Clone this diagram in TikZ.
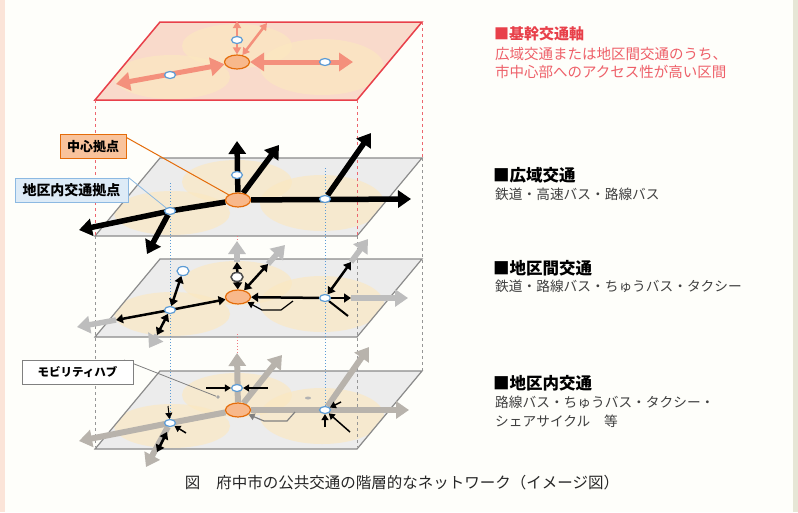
\documentclass[tikz,border=0pt]{standalone}
\usepackage{fontspec}
\newfontfamily\jp{Noto Sans CJK JP}
\usetikzlibrary{arrows.meta,shapes.geometric}
\definecolor{pagebg}{HTML}{FEFEFA}
\definecolor{edgepink}{HTML}{FBE4D8}
\definecolor{edgegray}{HTML}{E6E6D6}
\definecolor{axisred}{HTML}{E8404A}
\definecolor{axistext}{HTML}{EE5F68}
\definecolor{axisfill}{HTML}{F9DACB}
\definecolor{salmon}{HTML}{F4907C}
\definecolor{planefill}{HTML}{ECECEC}
\definecolor{planeedge}{HTML}{8A8A8A}
\definecolor{glowfill}{HTML}{FCE8C0}
\definecolor{hubfill}{HTML}{F8B88B}
\definecolor{hubedge}{HTML}{E46C0A}
\definecolor{stopedge}{HTML}{5B9BD5}
\definecolor{stopfill}{HTML}{DDEBF7}
\definecolor{fadegray}{HTML}{BDBDBD}
\definecolor{roadgray}{HTML}{B8B3AC}
\pgfdeclarelayer{back}
\pgfdeclarelayer{ways}
\pgfsetlayers{back,ways,main}
\tikzset{
    hub/.style={ellipse, draw=hubedge, fill=hubfill, line width=1.2pt, minimum width=25pt, minimum height=14pt, inner sep=0pt},
    stop/.style={ellipse, draw=stopedge, fill=white, line width=1.2pt, minimum width=11pt, minimum height=7pt, inner sep=0pt},
    bigtip/.style={arrows={-Triangle[length=13pt,width=17pt]}},
    axisway/.style={draw=salmon, line width=5pt, arrows={Triangle[length=14pt,width=18pt]-Triangle[length=14pt,width=18pt]}},
    axisthin/.style={draw=salmon, line width=2.5pt, arrows={Triangle[length=7pt,width=8pt]-Triangle[length=7pt,width=8pt]}},
    wide/.style={draw=black, line width=5.5pt, bigtip},
    link/.style={draw=black, line width=2.5pt, arrows={Triangle[length=7pt,width=9pt]-Triangle[length=7pt,width=9pt]}},
    onelink/.style={draw=black, line width=2.5pt, arrows={-Triangle[length=7pt,width=9pt]}},
    fade/.style={draw=fadegray, line width=5.5pt, bigtip},
    road/.style={draw=roadgray, line width=6pt, bigtip},
    tick/.style={draw=black, line width=1.5pt, arrows={-Triangle[length=6pt,width=7pt]}},
    callout/.style={line width=1pt, minimum height=24pt, inner sep=2pt, font=\jp\bfseries\fontsize{13}{13}\selectfont},
    heading/.style={anchor=west, inner sep=0pt, font=\jp\bfseries\fontsize{16.5}{16.5}\selectfont},
    body/.style={anchor=north west, inner sep=0pt, align=left, font=\jp\fontsize{13.7}{19}\selectfont, text=black!75},
}
\begin{document}
\begin{tikzpicture}[x=1pt,y=-1pt]
    \useasboundingbox (0,0) rectangle (798,512);
    \begin{pgfonlayer}{back}
    \fill[pagebg] (0,0) rectangle (798,512);
    \fill[edgepink] (0,0) rectangle (5,512);
    \fill[edgegray] (793,0) rectangle (798,512);
    \foreach \t/\c in {22/axisfill,158/planefill,259/planefill,371/planefill} {
        \fill[\c] (95,\t+78) -- (357,\t+78) -- (422,\t) -- (160,\t) -- cycle;
        \begin{scope}
            \clip (95,\t+78) -- (357,\t+78) -- (422,\t) -- (160,\t) -- cycle;
            \fill[glowfill, opacity=0.65] (237,\t+24) ellipse (55 and 22);
            \fill[glowfill, opacity=0.65] (322,\t+45) ellipse (62 and 28);
            \fill[glowfill, opacity=0.65] (172,\t+55) ellipse (58 and 22);
        \end{scope}
    }
    \draw[axisred, line width=1.5pt] (95,100) -- (357,100) -- (422,22) -- (160,22) -- cycle;
    \foreach \t in {158,259,371}
        \draw[planeedge, line width=1.2pt] (95,\t+78) -- (357,\t+78) -- (422,\t) -- (160,\t) -- cycle;
    % box edges and hub verticals
    \draw[axisred!80, line width=1pt, dashed] (95,100) -- (95,236) (357,100) -- (357,236) (422,22) -- (422,158);
    \draw[planeedge!90, line width=1pt, dashed] (95,236) -- (95,447) (357,236) -- (357,447) (422,158) -- (422,371);
    \draw[stopedge, line width=1pt, dotted] (170,183) -- (170,423) (325,168) -- (325,410);
    \draw[axisred!70, line width=1pt, dotted] (237,236) -- (237,259) (237,334) -- (237,371);
    \fill[gray!60] (308,398) ellipse (3 and 1.5);
    \end{pgfonlayer}

    % top layer
    \node[hub] (kc) at (237,62) {};
    \node[stop] (kl) at (170,75) {};
    \node[stop] (kr) at (325,62) {};
    \node[stop] (ku) at (237,40) {};
    \coordinate (kA) at (116,84);
    \coordinate (kB) at (353,62);
    \coordinate (kU) at (237,21);
    \coordinate (kD) at (267,23);
    \begin{pgfonlayer}{ways}
    \draw[axisway] (kA) -- (kc);
    \draw[axisway] (kc) -- (kB);
    \draw[axisthin] (kc) -- (kU);
    \draw[axisthin] (kc) -- (kD);
    \end{pgfonlayer}

    % wide area
    \node[hub] (wc) at (238,200) {};
    \node[stop] (wl) at (170,211) {};
    \node[stop] (wr) at (325,199) {};
    \node[stop] (wu) at (237,175) {};
    \coordinate (wA) at (79,230);
    \coordinate (wB) at (147,254);
    \coordinate (wE) at (411,199);
    \coordinate (wU) at (237,141);
    \coordinate (wF) at (279,145);
    \coordinate (wG) at (371,133);
    \begin{pgfonlayer}{ways}
    \draw[wide] (wc) -- (wl.center) -- (wA);
    \draw[wide] (wl) -- (wB);
    \draw[wide] (wc) -- (wE);
    \draw[wide] (wc) -- (wU);
    \draw[wide] (wc) -- (wF);
    \draw[wide] (wr) -- (wG);
    \end{pgfonlayer}

    % inter district
    \node[hub] (ic) at (238,297) {};
    \node[stop] (il) at (170,310) {};
    \node[stop] (ir) at (325,298) {};
    \node[stop, draw=black!70, line width=1.5pt, minimum width=12pt, minimum height=9pt] (iu) at (237,277) {};
    \node[stop, minimum width=12pt, minimum height=9pt] (ix) at (183,271) {};
    \coordinate (iA) at (116,320);
    \coordinate (iA2) at (77,327);
    \coordinate (iB) at (157,335);
    \coordinate (iB2) at (149,348);
    \coordinate (iU) at (237,262);
    \coordinate (iU2) at (237,241);
    \coordinate (iF) at (268,264);
    \coordinate (iF2) at (285,245);
    \coordinate (iG) at (351,262);
    \coordinate (iG2) at (368,239);
    \coordinate (iE) at (351,298);
    \coordinate (iE2) at (408,298);
    \coordinate (iH) at (348,316);
    \coordinate (iR1) at (293,301);
    \coordinate (iR2) at (281,310);
    \coordinate (iR3) at (262,310);
    \begin{pgfonlayer}{ways}
    \draw[fade] (iA) -- (iA2);
    \draw[fade] (iB) -- (iB2);
    \draw[fade] (iU) -- (iU2);
    \draw[fade] (iF) -- (iF2);
    \draw[fade] (iG) -- (iG2);
    \draw[fade] (iE) -- (iE2);
    \draw[link] (ic) -- (il.center) -- (iA);
    \draw[link] (il) -- (iB);
    \draw[link] (il) -- (ix);
    \draw[link] (ic) -- (iU);
    \draw[link] (ic) -- (iF);
    \draw[link] (ir) -- (iG);
    \draw[onelink] (ir) -- (iE);
    \draw[onelink] (ir) -- (ic);
    \draw[black, line width=2pt] (ir) -- (iH);
    \draw[tick, line width=1.2pt] (iR1) -- (iR2) -- (iR3) -- (ic);
    \end{pgfonlayer}

    % inner district
    \node[hub] (nc) at (238,410) {};
    \node[stop] (nl) at (170,423) {};
    \node[stop] (nr) at (325,410) {};
    \node[stop] (nu) at (237,388) {};
    \node[circle, fill=gray!70, inner sep=1.4pt] (hubpt) at (218,397) {};
    \coordinate (nA) at (79,441);
    \coordinate (nB) at (146,467);
    \coordinate (nE) at (409,410);
    \coordinate (nU) at (237,353);
    \coordinate (nF) at (282,355);
    \coordinate (nG) at (369,347);
    \coordinate (nL1) at (206,388);
    \coordinate (nL2) at (268,388);
    \coordinate (nR1) at (341,402);
    \coordinate (nR2) at (325,427);
    \coordinate (nR3) at (350,432);
    \coordinate (nS1) at (186,433);
    \coordinate (nS2) at (168,406);
    \coordinate (nK1) at (167,432);
    \coordinate (nK2) at (157,452);
    \coordinate (nQ1) at (295,412);
    \coordinate (nQ2) at (287,421);
    \coordinate (nQ3) at (264,421);
    \begin{pgfonlayer}{ways}
    \draw[road] (nc) -- (nl.center) -- (nA);
    \draw[road] (nl) -- (nB);
    \draw[road] (nc) -- (nE);
    \draw[road] (nc) -- (nU);
    \draw[road] (nc) -- (nF);
    \draw[road] (nr) -- (nG);
    \draw[link] (nK1) -- (nK2);
    \draw[tick] (nL1) -- (nu);
    \draw[tick] (nL2) -- (nu);
    \draw[tick] (nR1) -- (nr);
    \draw[tick] (nR2) -- (nr);
    \draw[tick] (nR3) -- (nr);
    \draw[tick] (nS1) -- (nl);
    \draw[tick, line width=1pt] (nS2) -- (nl);
    \draw[tick, draw=gray, line width=1.2pt] (nQ1) -- (nQ2) -- (nQ3) -- (nc);
    \end{pgfonlayer}

    % callouts
    \node[callout, draw=hubedge, fill=hubfill!85, minimum width=66pt] (cbox) at (93,146.5) {中心拠点};
    \node[callout, draw=stopedge!70, fill=stopfill, minimum width=113pt, font=\jp\bfseries\fontsize{14}{14}\selectfont] (sbox) at (71.5,190) {地区内交通拠点};
    \node[callout, draw=gray, fill=white, minimum width=111pt, font=\jp\bfseries\fontsize{11.5}{11.5}\selectfont] (mbox) at (77.5,372.5) {モビリティハブ};
    \begin{pgfonlayer}{ways}
    \draw[hubedge, line width=1pt] (cbox.15) -- (wc);
    \draw[stopedge!70, line width=0.8pt] (sbox.north east) -- (wl);
    \draw[gray, line width=0.8pt] (mbox.15) -- (hubpt);
    \end{pgfonlayer}

    % legend
    \node[heading, text=axisred, font=\jp\bfseries\fontsize{15}{15}\selectfont] (axishead) at (494,34) {■基幹交通軸};
    \node[body, text=axistext, font=\jp\fontsize{14.5}{18}\selectfont] (axisbody) at (495,47) {広域交通または地区間交通のうち、\\市中心部へのアクセス性が高い区間};
    \node[heading] (widehead) at (493,175) {■広域交通};
    \node[body] (widebody) at (495,188) {鉄道・高速バス・路線バス};
    \node[heading] (interhead) at (493,268) {■地区間交通};
    \node[body] (interbody) at (495,280) {鉄道・路線バス・ちゅうバス・タクシー};
    \node[heading] (intrahead) at (493,383) {■地区内交通};
    \node[body] (intrabody) at (495,396) {路線バス・ちゅうバス・タクシー・\\シェアサイクル　等};
    \node[font=\jp\fontsize{15.5}{15.5}\selectfont, text=black!85] (caption) at (402,483) {図\hspace{16pt}府中市の公共交通の階層的なネットワーク（イメージ図）};
\end{tikzpicture}
\end{document}
